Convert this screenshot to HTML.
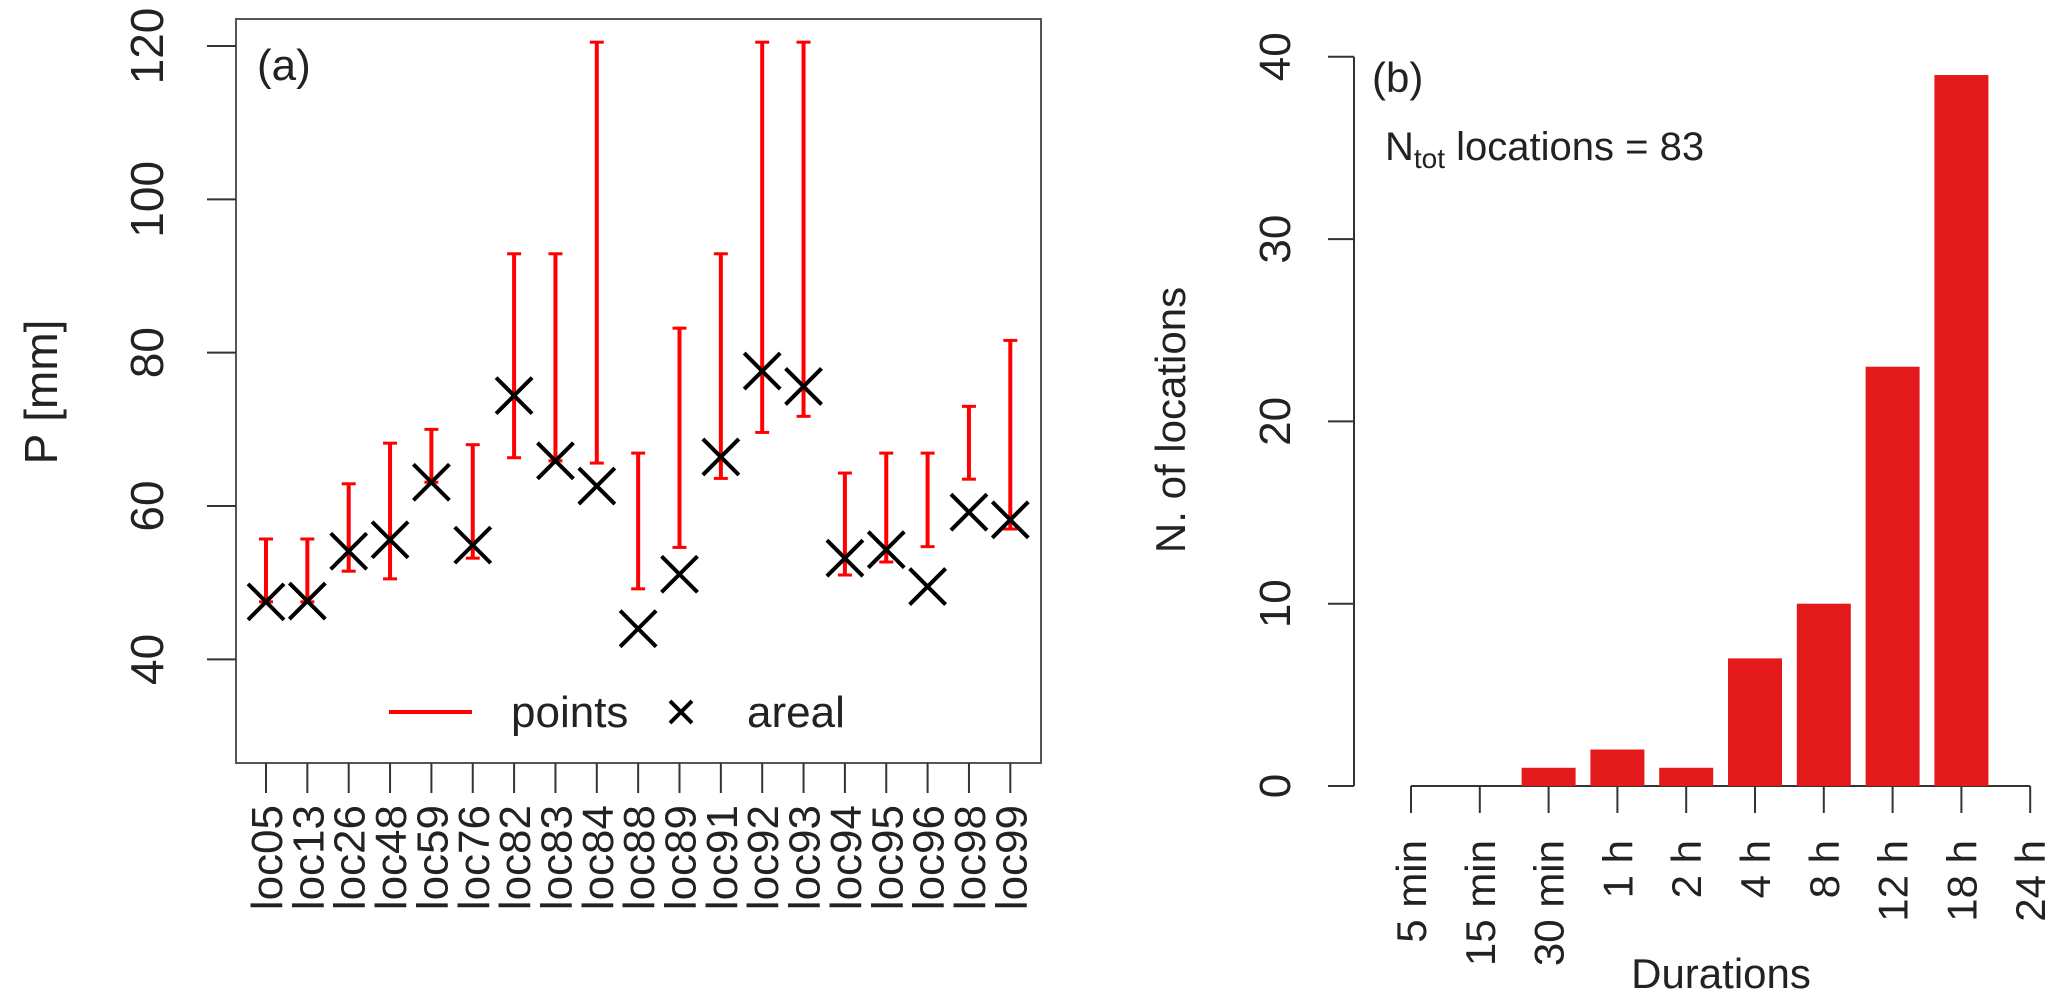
<!DOCTYPE html>
<html><head><meta charset="utf-8"><style>
html,body{margin:0;padding:0;background:#fff;}
svg{display:block;font-family:"Liberation Sans",Arial,sans-serif;}
</style></head><body>
<svg id="chart" width="2055" height="1000" viewBox="0 0 2055 1000" xmlns="http://www.w3.org/2000/svg">
<g id="pa"></g>
<g id="pb"></g>
</svg>
<script>
const locs = ["loc05","loc13","loc26","loc48","loc59","loc76","loc82","loc83","loc84","loc88","loc89","loc91","loc92","loc93","loc94","loc95","loc96","loc98","loc99"];
const pointLow  = [47.5,47.5,51.5,50.5,63.1,53.2,66.3,65.9,65.6,49.2,54.6,63.6,69.6,71.7,51.0,52.7,54.7,63.5,57.0];
const pointHigh = [55.7,55.7,62.9,68.2,70.0,68.0,92.9,92.9,120.5,66.9,83.2,92.9,120.5,120.5,64.3,66.9,66.9,73.0,81.6];
const areal     = [47.5,47.6,54.1,55.6,63.1,54.9,74.4,65.9,62.6,44.0,51.1,66.4,77.6,75.6,53.2,54.3,49.5,59.2,58.2];
const yTicksA = [40,60,80,100,120];

const durations = ["5 min","15 min","30 min","1 h","2 h","4 h","8 h","12 h","18 h","24 h"];
const counts = [0,0,1,2,1,7,10,23,39];
const yTicksB = [0,10,20,30,40];

const NS="http://www.w3.org/2000/svg";
function mk(parent,tag,attrs,text){const e=document.createElementNS(NS,tag);for(const k in attrs)e.setAttribute(k,attrs[k]);if(text!==undefined)e.textContent=text;parent.appendChild(e);return e;}

// Panel A
const pa=document.getElementById('pa');
const yA=v=>46+(120-v)*7.667;
const xA=i=>266+i*41.35;
let e;
e=mk(pa,'rect',{x:236,y:19,width:805,height:744,fill:'none',stroke:'#555','stroke-width':2});

yTicksA.forEach(t=>{
  e=mk(pa,'line',{x1:207,x2:236,y1:yA(t),y2:yA(t),stroke:'#333','stroke-width':2});
  
  e=mk(pa,'text',{x:0,y:0,transform:`translate(163,${yA(t)}) rotate(-90)`,'text-anchor':'middle','font-size':46,fill:'#222'},String(t));
  
});
e=mk(pa,'text',{transform:'translate(57,392) rotate(-90)','text-anchor':'middle','font-size':46,fill:'#222'},'P [mm]');

e=mk(pa,'text',{x:257,y:80,'font-size':44,fill:'#222'},'(a)');

locs.forEach((l,i)=>{
  const x=xA(i);
  e=mk(pa,'line',{x1:x,x2:x,y1:763,y2:793,stroke:'#333','stroke-width':2});
  
  e=mk(pa,'text',{transform:`translate(${x+16},805) rotate(-90)`,'text-anchor':'end','font-size':44,fill:'#222'},l);
  
  const g=mk(pa,'g',{});
  
  const y1=yA(pointHigh[i]),y2=yA(pointLow[i]);
  mk(g,'line',{x1:x,x2:x,y1:y1,y2:y2,stroke:'#ff0000','stroke-width':4});
  mk(g,'line',{x1:x-7,x2:x+7,y1:y1,y2:y1,stroke:'#ff0000','stroke-width':3});
  mk(g,'line',{x1:x-7,x2:x+7,y1:y2,y2:y2,stroke:'#ff0000','stroke-width':3});
  const ya=yA(areal[i]);
  const m=mk(pa,'path',{d:`M${x-18},${ya-18}L${x+18},${ya+18}M${x-18},${ya+18}L${x+18},${ya-18}`,stroke:'#000','stroke-width':4,fill:'none'});
  
});
const lg=mk(pa,'g',{});

e=mk(lg,'line',{x1:389,x2:472,y1:712,y2:712,stroke:'#ff0000','stroke-width':4});

e=mk(lg,'text',{x:511,y:727,'font-size':44,fill:'#222'},'points');

e=mk(lg,'path',{d:'M670,701L692,723M670,723L692,701',stroke:'#000','stroke-width':4});

e=mk(lg,'text',{x:747,y:727,'font-size':44,fill:'#222'},'areal');


// Panel B
const pb=document.getElementById('pb');
const yB=v=>786-v*18.23;
const xB=i=>1411+i*68.8;
e=mk(pb,'line',{x1:1354,x2:1354,y1:yB(40),y2:yB(0),stroke:'#333','stroke-width':2});

yTicksB.forEach(t=>{
  e=mk(pb,'line',{x1:1328,x2:1354,y1:yB(t),y2:yB(t),stroke:'#333','stroke-width':2});
  
  e=mk(pb,'text',{transform:`translate(1290,${yB(t)}) rotate(-90)`,'text-anchor':'middle','font-size':44,fill:'#222'},String(t));
  
});
e=mk(pb,'text',{transform:'translate(1185,420) rotate(-90)','text-anchor':'middle','font-size':42,fill:'#222'},'N. of locations');

e=mk(pb,'line',{x1:xB(0),x2:xB(durations.length-1),y1:786,y2:786,stroke:'#333','stroke-width':2});

counts.forEach((c,i)=>{
  if(c<=0)return;
  const r=mk(pb,'rect',{x:xB(i)-27,y:yB(c),width:54,height:786-yB(c),fill:'#e31a1c'});
  
  
});
durations.forEach((d,i)=>{
  const x=xB(i);
  e=mk(pb,'line',{x1:x,x2:x,y1:786,y2:813,stroke:'#333','stroke-width':2});
  
  e=mk(pb,'text',{transform:`translate(${x+15},840) rotate(-90)`,'text-anchor':'end','font-size':42,fill:'#222'},d);
  
});
e=mk(pb,'text',{x:1721,y:988,'text-anchor':'middle','font-size':42,fill:'#222'},'Durations');

e=mk(pb,'text',{x:1372,y:92,'font-size':42,fill:'#222'},'(b)');

const nt=mk(pb,'text',{x:1385,y:160,'font-size':40,fill:'#222'});

mk(nt,'tspan',{},'N');
mk(nt,'tspan',{'font-size':28,dy:8},'tot');
mk(nt,'tspan',{dy:-8},' locations = 83');
</script>
</body></html>
